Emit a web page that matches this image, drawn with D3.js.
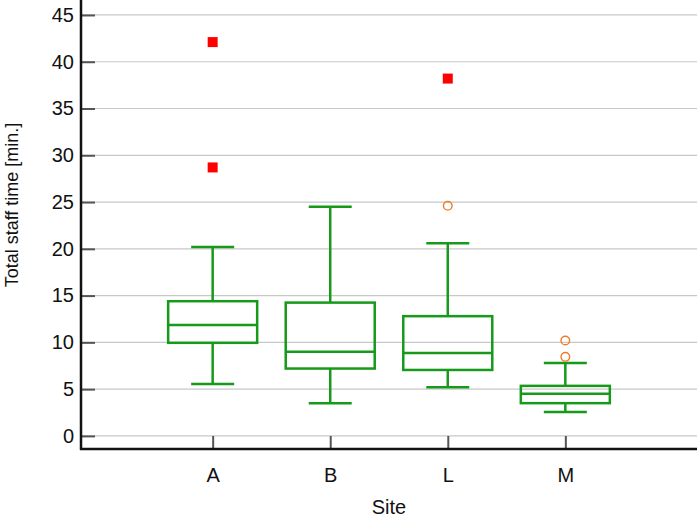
<!DOCTYPE html>
<html>
<head>
<meta charset="UTF-8">
<script src="https://cdn.jsdelivr.net/npm/d3@7"></script>
<style>
  body, html { margin: 0; padding: 0; background: #fff; }
  text { font-family: "Liberation Sans", Arial, sans-serif; }
</style>
</head>
<body>
<svg id="chart" width="697" height="519"></svg>
<script>
// box plot values
var sites = ["A", "B", "L", "M"];
var whiskerLow = [5.55, 3.5, 5.2, 2.55];
var q1 = [9.95, 7.2, 7.05, 3.5];
var median = [11.85, 9.0, 8.85, 4.5];
var q3 = [14.4, 14.25, 12.8, 5.35];
var whiskerHigh = [20.2, 24.5, 20.6, 7.8];
// outside values (circles) and far-out values (squares)
var outSite = ["L", "M", "M"];
var outValue = [24.6, 10.2, 8.45];
var farSite = ["A", "A", "L"];
var farValue = [42.1, 28.7, 38.2];
var yTicks = [0, 5, 10, 15, 20, 25, 30, 35, 40, 45];

var svg = d3.select("#chart");
var plotLeft = 81, plotRight = 697, plotTop = 0, plotBottom = 449;
var green = "#17991a";

var x = d3.scalePoint().domain(sites).range([plotLeft, plotRight]).padding(1.12);
var y = d3.scaleLinear().domain([-1.4, 46.6]).range([plotBottom, plotTop]);

// grid
svg.selectAll(".grid")
    .data(yTicks)
    .enter()
    .append("line")
    .attr("x1", plotLeft).attr("x2", plotRight)
    .attr("y1", d => y(d)).attr("y2", d => y(d))
    .attr("stroke", "#c8c8c8")
    .attr("stroke-width", 1.2);

// y axis
var yAxis = svg.append("g")
    .attr("transform", "translate(" + plotLeft + ",0)")
    .call(d3.axisRight(y).tickValues(yTicks).tickSize(14).tickFormat(d3.format("d")));
yAxis.select(".domain").remove();
yAxis.selectAll(".tick line").attr("stroke", "#555").attr("stroke-width", 2);
yAxis.selectAll(".tick text")
    .attr("x", -7).attr("text-anchor", "end")
    .attr("font-size", "20px").attr("fill", "#111");

// x axis
var xAxis = svg.append("g")
    .attr("transform", "translate(0," + plotBottom + ")")
    .call(d3.axisTop(x).tickSize(13));
xAxis.select(".domain").remove();
xAxis.selectAll(".tick line").attr("stroke", "#555").attr("stroke-width", 2);
xAxis.selectAll(".tick text")
    .attr("y", 33).attr("dy", 0)
    .attr("font-size", "20px").attr("fill", "#111");

// axis lines
svg.append("line").attr("x1", plotLeft).attr("x2", plotLeft).attr("y1", plotTop).attr("y2", plotBottom + 1)
    .attr("stroke", "#111").attr("stroke-width", 2.5);
svg.append("line").attr("x1", plotLeft - 1).attr("x2", plotRight).attr("y1", plotBottom).attr("y2", plotBottom)
    .attr("stroke", "#111").attr("stroke-width", 2.5);

// boxes
var boxW = 89, capW = 43;
var boxes = svg.selectAll(".box")
    .data(sites)
    .enter()
    .append("g")
    .attr("fill", "none")
    .attr("stroke", green)
    .attr("stroke-width", 2.5);

boxes.append("line")
    .attr("x1", d => x(d)).attr("x2", d => x(d))
    .attr("y1", (d, i) => y(whiskerHigh[i])).attr("y2", (d, i) => y(q3[i]));
boxes.append("line")
    .attr("x1", d => x(d)).attr("x2", d => x(d))
    .attr("y1", (d, i) => y(q1[i])).attr("y2", (d, i) => y(whiskerLow[i]));
boxes.append("line")
    .attr("x1", d => x(d) - capW / 2).attr("x2", d => x(d) + capW / 2)
    .attr("y1", (d, i) => y(whiskerHigh[i])).attr("y2", (d, i) => y(whiskerHigh[i]));
boxes.append("line")
    .attr("x1", d => x(d) - capW / 2).attr("x2", d => x(d) + capW / 2)
    .attr("y1", (d, i) => y(whiskerLow[i])).attr("y2", (d, i) => y(whiskerLow[i]));
boxes.append("rect")
    .attr("x", d => x(d) - boxW / 2)
    .attr("y", (d, i) => y(q3[i]))
    .attr("width", boxW)
    .attr("height", (d, i) => y(q1[i]) - y(q3[i]));
boxes.append("line")
    .attr("x1", d => x(d) - boxW / 2).attr("x2", d => x(d) + boxW / 2)
    .attr("y1", (d, i) => y(median[i])).attr("y2", (d, i) => y(median[i]));

// outliers
svg.selectAll(".out")
    .data(outValue)
    .enter()
    .append("circle")
    .attr("cx", (d, i) => x(outSite[i]))
    .attr("cy", d => y(d))
    .attr("r", 4.3)
    .attr("fill", "none")
    .attr("stroke", "#f07a28")
    .attr("stroke-width", 1.4);

svg.selectAll(".far")
    .data(farValue)
    .enter()
    .append("rect")
    .attr("x", (d, i) => x(farSite[i]) - 5)
    .attr("y", d => y(d) - 5)
    .attr("width", 10)
    .attr("height", 10)
    .attr("fill", "#ff0000");

// axis titles
svg.append("text")
    .attr("transform", "translate(18,205) rotate(-90)")
    .attr("text-anchor", "middle")
    .attr("font-size", "18px")
    .attr("fill", "#111")
    .text("Total staff time [min.]");

svg.append("text")
    .attr("x", (plotLeft + plotRight) / 2)
    .attr("y", 514)
    .attr("text-anchor", "middle")
    .attr("font-size", "20px")
    .attr("fill", "#111")
    .text("Site");
</script>
</body>
</html>
